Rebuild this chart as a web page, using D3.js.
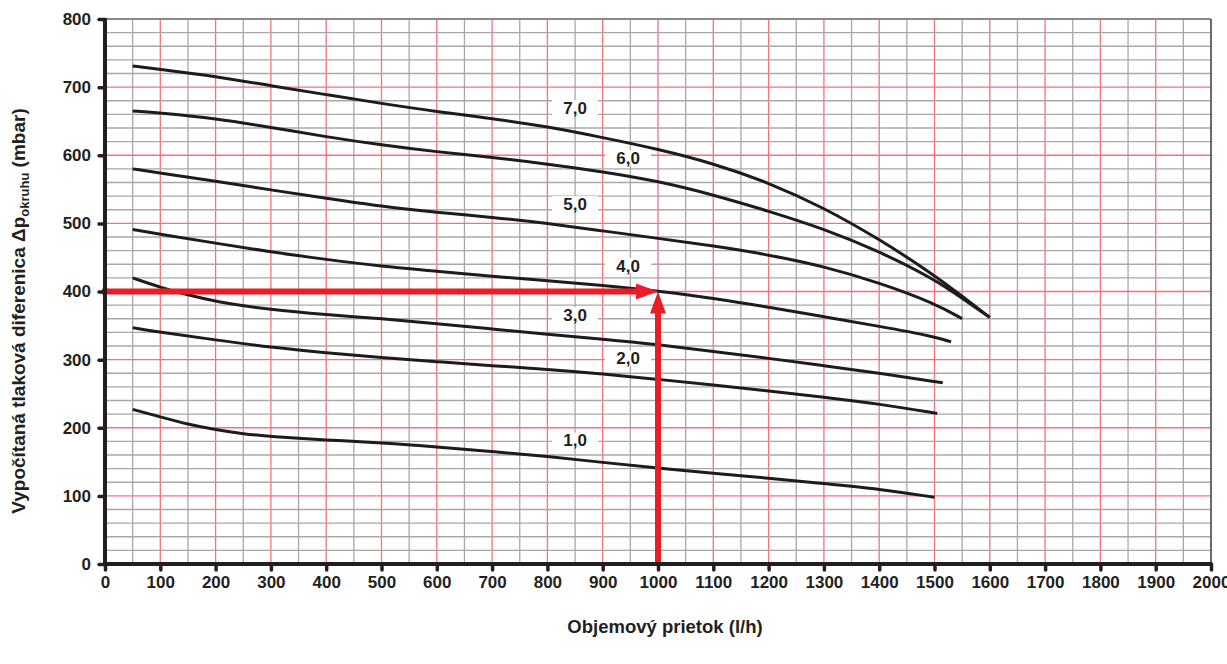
<!DOCTYPE html>
<html><head>
<meta charset="utf-8">
<script src="https://d3js.org/d3.v7.min.js"></script>
<style>
  body { margin: 0; background: #fff; }
  text { font-family: "Liberation Sans", Arial, sans-serif; font-weight: bold; fill: #231f20; }
</style>
</head>
<body>
<svg id="chart" width="1227" height="664"></svg>
<script>
// data (flow l/h, pressure mbar)
const curveLabels = ["7,0", "6,0", "5,0", "4,0", "3,0", "2,0", "1,0"];
const curve70 = [[50,731],[100,726],[200,716],[300,702],[400,689],[500,676],[600,664],[700,654],[800,642],[900,626],[1000,609],[1100,588],[1200,560],[1300,523],[1400,477],[1500,424],[1550,393],[1600,362]];
const curve60 = [[50,665],[100,662],[200,654],[300,641],[400,627],[500,615],[600,605],[700,597],[800,587],[900,576],[1000,562],[1100,542],[1200,518],[1300,492],[1400,459],[1500,418],[1550,390],[1600,362]];
const curve50 = [[50,580],[100,574],[200,562],[300,549],[400,537],[500,525],[600,516],[700,509],[800,500],[900,489],[1000,478],[1100,467],[1200,454],[1300,437],[1400,413],[1500,383],[1550,360]];
const curve40 = [[50,491],[100,484],[200,471],[300,458],[400,447],[500,437],[600,430],[700,422],[800,416],[900,409],[1000,401],[1100,390],[1200,377],[1300,363],[1400,349],[1500,334],[1530,326]];
const curve30 = [[50,420],[100,406],[150,395],[200,385],[300,373],[400,366],[500,360],[600,353],[700,345],[800,337],[900,330],[1000,322],[1100,312],[1200,302],[1300,291],[1400,280],[1515,266]];
const curve20 = [[50,347],[100,340],[200,329],[300,318],[400,310],[500,303],[600,297],[700,291],[800,286],[900,279],[1000,271],[1100,263],[1200,254],[1300,245],[1400,235],[1505,221]];
const curve10 = [[50,227],[100,216],[150,205],[200,197],[250,191],[300,187],[400,182],[500,178],[600,172],[700,165],[800,158],[900,149],[1000,141],[1100,133],[1200,126],[1300,118],[1400,110],[1500,98]];
const labelX = [850, 946, 850, 946, 850, 946, 850];
const labelY = [670, 596, 529, 438, 366, 302, 182];
const xTicks = d3.range(0, 2001, 100);
const yTicks = d3.range(0, 801, 100);
const operatingPoint = [1000, 400];

let svg = d3.select("svg#chart");
let margin = {"top": 19, "right": 16, "bottom": 100, "left": 105};
let chartWidth = 1211 - margin.left;
let chartHeight = 564 - margin.top;

let x = d3.scaleLinear().domain([0, 2000]).range([0, chartWidth]);
let y = d3.scaleLinear().domain([0, 800]).range([chartHeight, 0]);

let plot = svg.append("g").attr("transform", "translate(" + margin.left + "," + margin.top + ")");

// grid: gray every 50 / 20, red every 100
let grid = plot.append("g");
grid.selectAll("line.vg").data(d3.range(50, 2000, 50)).join("line")
    .attr("x1", d => x(d)).attr("x2", d => x(d))
    .attr("y1", 0).attr("y2", chartHeight)
    .attr("stroke", d => d % 100 == 0 ? "#f7707a" : "#a8a8a8")
    .attr("stroke-width", 1.3);
grid.selectAll("line.hg").data(d3.range(20, 800, 20)).join("line")
    .attr("x1", 0).attr("x2", chartWidth)
    .attr("y1", d => y(d)).attr("y2", d => y(d))
    .attr("stroke", d => d % 100 == 0 ? "#f7707a" : "#a8a8a8")
    .attr("stroke-width", 1.3);
// top and right borders
plot.append("line").attr("x1", 0).attr("x2", chartWidth).attr("y1", y(800)).attr("y2", y(800))
    .attr("stroke", "#8a8a8a").attr("stroke-width", 2);
plot.append("line").attr("x1", x(2000)).attr("x2", x(2000)).attr("y1", 0).attr("y2", chartHeight)
    .attr("stroke", "#6a6a6a").attr("stroke-width", 2);

// curves
let allCurves = [curve70, curve60, curve50, curve40, curve30, curve20, curve10];
let line = d3.line().x(d => x(d[0])).y(d => y(d[1])).curve(d3.curveBasis);
plot.selectAll("path.curve").data(allCurves).join("path")
    .attr("d", line)
    .attr("fill", "none")
    .attr("stroke", "#1c1c1c")
    .attr("stroke-width", 3);

// labels with white boxes
allCurves.forEach((c, i) => {
    let g = plot.append("g").attr("transform", "translate(" + x(labelX[i]) + "," + y(labelY[i]) + ")");
    g.append("rect").attr("x", -23).attr("y", -7.5).attr("width", 46).attr("height", 15).attr("fill", "#fff");
    g.append("text").attr("text-anchor", "middle").attr("dy", "0.36em")
        .style("font-size", "17px").text(curveLabels[i]);
});

// red arrows
let red = "#ec1c24";
let px = x(operatingPoint[0]), py = y(operatingPoint[1]);
plot.append("line").attr("x1", -3).attr("x2", px - 18).attr("y1", py).attr("y2", py)
    .attr("stroke", red).attr("stroke-width", 6);
plot.append("path").attr("d", "M" + (px - 22) + "," + (py - 8) + "L" + px + "," + py + "L" + (px - 22) + "," + (py + 8) + "Z")
    .attr("fill", red);
plot.append("line").attr("x1", px).attr("x2", px).attr("y1", chartHeight + 1).attr("y2", py + 18)
    .attr("stroke", red).attr("stroke-width", 6);
plot.append("path").attr("d", "M" + (px - 8) + "," + (py + 22) + "L" + px + "," + py + "L" + (px + 8) + "," + (py + 22) + "Z")
    .attr("fill", red);

// axes
let xAxis = plot.append("g").attr("transform", "translate(0," + chartHeight + ")")
    .call(d3.axisBottom(x).tickValues(xTicks).tickFormat(d3.format("d")).tickSize(6).tickPadding(6));
let yAxis = plot.append("g")
    .call(d3.axisLeft(y).tickValues(yTicks).tickFormat(d3.format("d")).tickSize(6).tickPadding(8));
[xAxis, yAxis].forEach(a => {
    a.attr("font-size", null).attr("font-family", null);
    a.select(".domain").remove();
    a.selectAll(".tick line").attr("stroke", "#231f20").attr("stroke-width", 3.5).attr("stroke-linecap", "round");
    a.selectAll(".tick text").style("font-size", "17px").attr("fill", "#231f20");
});
plot.append("line").attr("x1", -1).attr("x2", chartWidth + 1).attr("y1", chartHeight).attr("y2", chartHeight)
    .attr("stroke", "#231f20").attr("stroke-width", 4);
plot.append("line").attr("x1", 0).attr("x2", 0).attr("y1", -1).attr("y2", chartHeight + 2)
    .attr("stroke", "#231f20").attr("stroke-width", 4);

// axis titles
let yt = svg.append("text").attr("transform", "translate(25,311) rotate(-90)")
    .attr("text-anchor", "middle").style("font-size", "19px");
yt.append("tspan").text("Vypočítaná tlaková diferenica Δp");
yt.append("tspan").attr("dy", 4).style("font-size", "13px").text("okruhu");
yt.append("tspan").attr("dy", -4).text(" (mbar)");
svg.append("text").attr("x", 665).attr("y", 633).attr("text-anchor", "middle")
    .style("font-size", "18.5px").text("Objemový prietok (l/h)");
</script>
</body>
</html>
